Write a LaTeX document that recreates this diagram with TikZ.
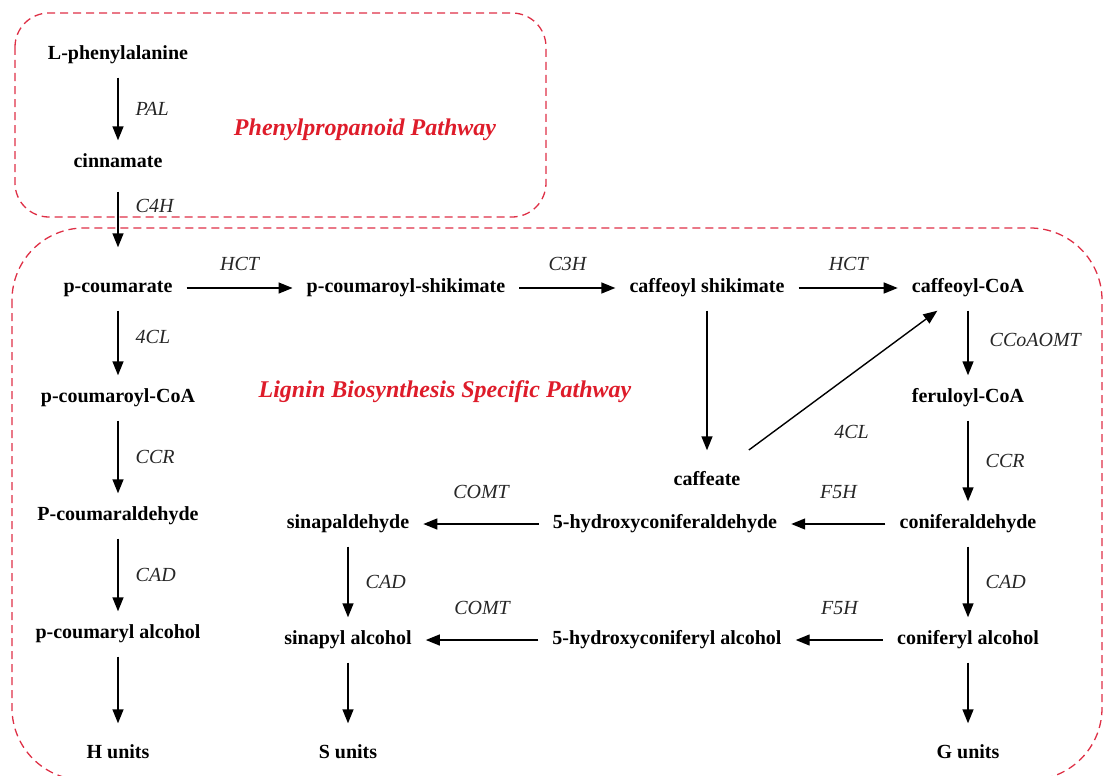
\documentclass[tikz,border=0pt]{standalone}
\usepackage{fontspec}
\setmainfont{Liberation Serif}
\usepackage{tikz}
\usetikzlibrary{arrows.meta}
\definecolor{pathred}{RGB}{222,28,42}
\definecolor{boxred}{RGB}{222,48,70}
\tikzstyle{cpd}=[font=\fontsize{20}{24}\selectfont\bfseries, text height=14pt, text depth=5pt, inner xsep=14pt, inner ysep=13pt]
\tikzstyle{enz}=[font=\fontsize{20}{24}\selectfont\itshape, text=black!85, inner sep=3pt]
\tikzstyle{rx}=[-{Triangle[length=14pt,width=11pt]}, line width=1.4pt]
\tikzstyle{zone}=[draw=boxred, line width=1.3pt, dash pattern=on 8pt off 5pt]
\tikzstyle{pathtitle}=[font=\fontsize{24}{28}\selectfont\bfseries\itshape, text=pathred]

\begin{document}
\begin{tikzpicture}[x=1pt,y=-1pt]
\useasboundingbox (0,0) rectangle (1108,776);
% the two pathway frames
\draw[zone, rounded corners=34pt] (15,13) rectangle (546,217);
\draw[zone, rounded corners=72pt] (12,228) rectangle (1102,780);
\node[pathtitle] (ppp) at (365,130) {Phenylpropanoid Pathway};
\node[pathtitle] (lbsp) at (445,392) {Lignin Biosynthesis Specific Pathway};

% compounds
\node[cpd] (phe) at (118,55) {L-phenylalanine};
\node[cpd] (cin) at (118,163) {cinnamate};
\node[cpd] (pca) at (118,288) {p-coumarate};
\node[cpd] (pcs) at (406,288) {p-coumaroyl-shikimate};
\node[cpd] (cfs) at (707,288) {caffeoyl shikimate};
\node[cpd] (cfc) at (968,288) {caffeoyl-CoA};
\node[cpd] (pcc) at (118,398) {p-coumaroyl-CoA};
\node[cpd] (frc) at (968,398) {feruloyl-CoA};
\node[cpd] (cfa) at (707,481) {caffeate};
\node[cpd] (pcd) at (118,516) {P-coumaraldehyde};
\node[cpd] (snd) at (348,524) {sinapaldehyde};
\node[cpd] (hcd) at (665,524) {5-hydroxyconiferaldehyde};
\node[cpd] (cnd) at (968,524) {coniferaldehyde};
\node[cpd] (pcl) at (118,634) {p-coumaryl alcohol};
\node[cpd] (snl) at (348,640) {sinapyl alcohol};
\node[cpd] (hcl) at (667,640) {5-hydroxyconiferyl alcohol};
\node[cpd] (cnl) at (968,640) {coniferyl alcohol};
\node[cpd] (hu) at (118,754) {H units};
\node[cpd] (su) at (348,754) {S units};
\node[cpd] (gu) at (968,754) {G units};

% reactions
\draw[rx] (phe) -- node[enz,right=14pt] {PAL} (cin);
\draw[rx, shorten <=6pt, shorten >=18pt] (cin) -- node[enz,right=14pt,pos=0.25] {C4H} (pca);
\draw[rx] (pca) -- node[enz,above=14pt] {HCT} (pcs);
\draw[rx] (pcs) -- node[enz,above=14pt] {C3H} (cfs);
\draw[rx] (cfs) -- node[enz,above=14pt] {HCT} (cfc);
\draw[rx] (pca) -- node[enz,right=14pt,pos=0.4] {4CL} (pcc);
\draw[rx] (cfc) -- node[enz,right=18pt,pos=0.45] {CCoAOMT} (frc);
\draw[rx, shorten >=8pt] (cfs) -- (cfa);
\draw[rx, shorten <=14pt] (cfa) -- node[enz,pos=0.5,xshift=14pt,yshift=-47pt] {4CL} (cfc);
\draw[rx] (pcc) -- node[enz,right=14pt] {CCR} (pcd);
\draw[rx] (frc) -- node[enz,right=14pt] {CCR} (cnd);
\draw[rx] (cnd) -- node[enz,above=22pt] {F5H} (hcd);
\draw[rx] (hcd) -- node[enz,above=22pt] {COMT} (snd);
\draw[rx] (pcd) -- node[enz,right=14pt] {CAD} (pcl);
\draw[rx] (snd) -- node[enz,right=14pt] {CAD} (snl);
\draw[rx] (cnd) -- node[enz,right=14pt] {CAD} (cnl);
\draw[rx] (cnl) -- node[enz,above=22pt] {F5H} (hcl);
\draw[rx] (hcl) -- node[enz,above=22pt] {COMT} (snl);
\draw[rx, shorten >=8pt] (pcl) -- (hu);
\draw[rx, shorten >=8pt] (snl) -- (su);
\draw[rx, shorten >=8pt] (cnl) -- (gu);
\end{tikzpicture}
\end{document}
